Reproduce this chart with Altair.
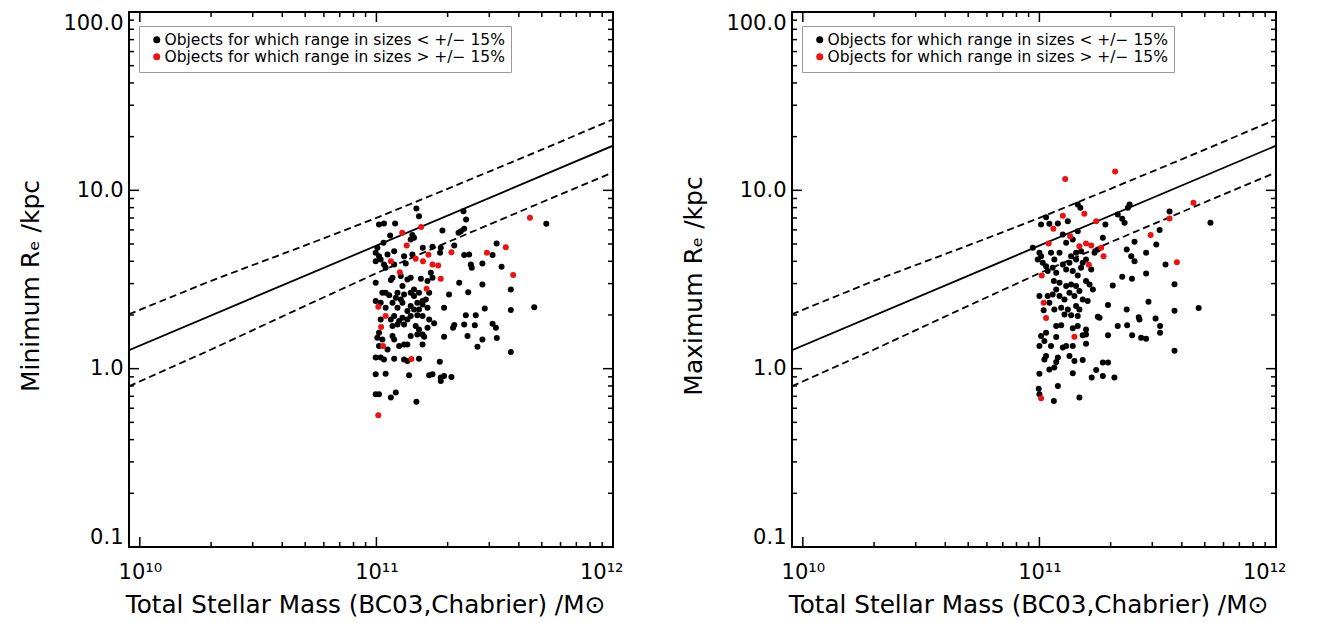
import altair as alt
import pandas as pd

FONT = "DejaVu Sans"
LAB_BLACK = "Objects for which range in sizes < +/\u2212 15%"
LAB_RED = "Objects for which range in sizes > +/\u2212 15%"

# ---------------- left panel (Minimum Re) : log10(M/Msun), log10(Re/kpc)
min_black_logm = [11.169, 11.180, 11.368, 11.379, 11.011, 11.032, 11.079, 11.371, 11.357, 11.347,
                  11.279, 11.058, 11.152, 11.159, 11.145, 11.030, 11.196, 11.237, 11.272, 11.329,
                  11.508, 11.718, 11.004, 10.997, 11.011, 11.018, 11.075, 11.047, 11.117, 11.152,
                  11.269, 11.371, 11.392, 11.491, 10.997, 11.032, 11.039, 11.075, 11.124, 11.399,
                  11.403, 11.448, 11.529, 10.997, 11.061, 11.068, 11.103, 11.131, 11.145, 11.188,
                  11.216, 11.237, 11.230, 11.350, 11.448, 11.568, 11.039, 11.054, 11.089, 11.117,
                  11.145, 11.159, 11.180, 11.195, 11.307, 11.388, 10.997, 11.018, 11.039, 11.068,
                  11.089, 11.110, 11.145, 11.173, 11.195, 11.159, 11.131, 11.286, 11.458, 11.568,
                  11.667, 11.075, 11.061, 11.110, 11.145, 11.173, 11.195, 11.223, 11.378, 11.420,
                  11.244, 11.068, 11.089, 11.117, 11.166, 11.180, 11.216, 11.329, 11.324, 11.371,
                  11.416, 11.491, 11.505, 11.011, 11.004, 11.025, 11.068, 11.145, 11.173, 11.195,
                  11.202, 11.286, 11.385, 11.448, 11.509, 11.011, 11.047, 11.096, 11.117, 11.131,
                  11.195, 11.427, 11.568, 10.997, 11.018, 11.032, 11.075, 11.117, 11.131, 11.180,
                  11.268, 10.997, 11.039, 11.138, 11.223, 11.237, 11.272, 11.286, 11.317, 11.272,
                  10.997, 11.011, 11.061, 11.082, 11.169, 11.103, 11.216, 11.180, 11.096, 11.131,
                  11.209, 11.082, 11.025, 11.159, 11.110, 11.223, 11.075, 11.018]
min_black_logr = [0.898, 0.855, 0.883, 0.836, 0.808, 0.814, 0.814, 0.784, 0.771, 0.762,
                  0.775, 0.747, 0.749, 0.734, 0.724, 0.706, 0.678, 0.683, 0.678, 0.691,
                  0.702, 0.812, 0.678, 0.650, 0.631, 0.612, 0.659, 0.640, 0.631, 0.640,
                  0.650, 0.637, 0.640, 0.637, 0.603, 0.584, 0.566, 0.584, 0.590, 0.584,
                  0.566, 0.590, 0.571, 0.482, 0.497, 0.510, 0.519, 0.500, 0.510, 0.504,
                  0.491, 0.510, 0.538, 0.482, 0.472, 0.444, 0.426, 0.411, 0.426, 0.416,
                  0.426, 0.407, 0.426, 0.379, 0.416, 0.429, 0.379, 0.370, 0.342, 0.370,
                  0.342, 0.370, 0.351, 0.370, 0.360, 0.332, 0.323, 0.342, 0.338, 0.329,
                  0.345, 0.295, 0.276, 0.286, 0.295, 0.299, 0.295, 0.276, 0.299, 0.299,
                  0.254, 0.239, 0.248, 0.248, 0.239, 0.220, 0.230, 0.245, 0.230, 0.248,
                  0.243, 0.252, 0.230, 0.202, 0.174, 0.164, 0.183, 0.183, 0.192, 0.192,
                  0.179, 0.179, 0.183, 0.164, 0.172, 0.127, 0.108, 0.127, 0.136, 0.136,
                  0.136, 0.123, 0.093, 0.063, 0.062, 0.052, 0.056, 0.052, 0.043, 0.056,
                  0.039, -0.032, -0.028, -0.037, -0.037, -0.032, -0.050, -0.041, -0.047, -0.069,
                  -0.144, -0.144, -0.162, -0.134, -0.185, 0.388, 0.342, 0.332, 0.267, 0.276,
                  0.388, 0.398, 0.426, 0.444, 0.463, 0.426, 0.164, 0.276]
min_red_logm = [11.189, 11.109, 11.128, 11.547, 11.649, 11.220, 11.317, 11.467, 11.061, 11.166,
                11.197, 11.237, 11.261, 11.099, 11.578, 11.272, 11.212, 11.008, 11.039, 11.020,
                11.028, 11.148, 11.008]
min_red_logr = [0.795, 0.762, 0.691, 0.681, 0.846, 0.639, 0.653, 0.650, 0.603, 0.616,
                0.603, 0.584, 0.579, 0.541, 0.525, 0.504, 0.448, 0.347, 0.295, 0.233,
                0.127, 0.054, -0.261]

# ---------------- right panel (Maximum Re)
max_black_logm = [11.173, 11.162, 11.028, 11.007, 11.042, 11.078, 11.120, 11.279, 11.331, 11.350,
                  11.360, 11.381, 11.374, 11.550, 11.723, 11.099, 11.162, 11.113, 11.141, 11.268,
                  11.155, 11.176, 11.402, 11.508, 11.494, 10.972, 11.000, 10.993, 11.014, 11.028,
                  11.049, 11.063, 11.007, 11.134, 11.247, 11.233, 11.369, 11.388, 11.402, 11.451,
                  11.533, 11.035, 11.056, 11.071, 11.141, 11.162, 11.197, 11.212, 11.226, 11.350,
                  11.391, 11.451, 11.571, 11.061, 11.085, 11.071, 11.056, 11.085, 11.113, 11.127,
                  11.106, 11.148, 11.169, 11.183, 11.204, 11.000, 11.035, 11.042, 11.155, 11.169,
                  11.310, 11.018, 11.063, 11.092, 11.106, 11.134, 11.162, 11.120, 11.247, 11.254,
                  11.290, 11.369, 11.420, 11.423, 11.461, 11.491, 11.571, 11.673, 11.071, 11.092,
                  11.141, 11.162, 11.197, 11.331, 11.371, 11.183, 11.197, 11.290, 11.392, 11.430,
                  11.451, 11.510, 11.510, 11.007, 11.028, 11.021, 11.000, 11.049, 11.071, 11.099,
                  11.113, 11.141, 11.197, 11.028, 11.021, 11.078, 11.071, 11.127, 11.148, 11.183,
                  11.571, 11.268, 11.290, 11.240, 11.042, 11.063, 11.000, 11.141, 11.221, 11.268,
                  11.317, 11.078, 10.997, 11.061, 11.169, 11.000, 11.127, 11.155, 11.183, 11.099,
                  11.176, 11.134, 11.155, 11.113, 11.197, 11.085, 11.219]
max_black_logr = [0.902, 0.920, 0.849, 0.808, 0.812, 0.814, 0.827, 0.808, 0.864, 0.840,
                  0.818, 0.920, 0.902, 0.881, 0.818, 0.752, 0.771, 0.706, 0.724, 0.734,
                  0.650, 0.659, 0.711, 0.777, 0.696, 0.678, 0.650, 0.612, 0.594, 0.575,
                  0.650, 0.612, 0.631, 0.631, 0.668, 0.650, 0.668, 0.631, 0.603, 0.650,
                  0.584, 0.547, 0.566, 0.538, 0.547, 0.523, 0.491, 0.472, 0.444, 0.515,
                  0.504, 0.534, 0.474, 0.491, 0.482, 0.444, 0.416, 0.407, 0.463, 0.426,
                  0.388, 0.407, 0.435, 0.388, 0.379, 0.407, 0.407, 0.370, 0.351, 0.332,
                  0.467, 0.327, 0.332, 0.342, 0.304, 0.299, 0.295, 0.332, 0.291, 0.286,
                  0.357, 0.332, 0.289, 0.276, 0.375, 0.282, 0.325, 0.340, 0.239, 0.243,
                  0.226, 0.239, 0.220, 0.239, 0.243, 0.187, 0.192, 0.187, 0.187, 0.174,
                  0.168, 0.239, 0.202, 0.183, 0.202, 0.155, 0.127, 0.127, 0.177, 0.118,
                  0.127, 0.127, 0.140, 0.071, 0.052, 0.062, 0.037, 0.071, 0.043, 0.049,
                  0.101, 0.034, 0.034, -0.007, -0.004, 0.006, -0.028, -0.026, -0.050, -0.041,
                  -0.050, -0.097, -0.112, -0.181, -0.162, -0.144, 0.594, 0.612, 0.594, 0.584,
                  0.566, 0.472, 0.463, 0.556, 0.612, 0.650, 0.556]
max_red_logm = [11.109, 11.320, 11.190, 11.099, 11.059, 11.240, 11.550, 11.651, 11.130, 11.039,
                11.169, 11.197, 11.219, 11.261, 11.271, 11.470, 11.209, 11.581, 11.010, 11.018,
                11.028, 11.148, 11.007]
max_red_logr = [1.064, 1.105, 0.868, 0.857, 0.784, 0.827, 0.842, 0.930, 0.743, 0.702,
                0.687, 0.702, 0.691, 0.678, 0.631, 0.749, 0.583, 0.597, 0.523, 0.370,
                0.284, 0.179, -0.166]

# ---------------- size-mass relation and its scatter
solid_mass = [9e9, 1e12]
solid_re = [1.27, 17.8]
dash_mass = [9e9, 2e10, 5e10, 1e11, 2e11, 5e11, 1e12]
upper_re = [2.02, 3.11, 4.91, 7.00, 10.2, 16.9, 25.0]
lower_re = [0.797, 1.28, 2.25, 3.43, 5.12, 8.57, 12.6]

# ---------------- tick values
x_major = [1e10, 1e11, 1e12]
x_minor = [k * 10.0 ** e for e in (10, 11) for k in range(2, 10)]
y_major = [0.1, 1.0, 10.0, 100.0]
y_minor = [k * 10.0 ** e for e in (-1, 0, 1) for k in range(2, 10)]

W, H = 484, 535
MAJ, MIN = 10, 5

xs = alt.Scale(type="log", domain=[9e9, 1e12], nice=False)
ys = alt.Scale(type="log", domain=[0.1, 100], nice=False)


def inward_ticks():
    """Inward-pointing tick marks on all four sides, placed through the scales."""
    layers = []
    for vals, size in ((x_major, MAJ), (x_minor, MIN)):
        d = pd.DataFrame({"v": vals})
        for y0, y1 in ((H, H - size), (0, size)):
            layers.append(alt.Chart(d).mark_rule(color="black", strokeWidth=1.5).encode(
                x=alt.X("v:Q", scale=xs, axis=None), y=alt.value(y0), y2=alt.value(y1)))
    for vals, size in ((y_major, MAJ), (y_minor, MIN)):
        d = pd.DataFrame({"v": vals})
        for x0, x1 in ((0, size), (W, W - size)):
            layers.append(alt.Chart(d).mark_rule(color="black", strokeWidth=1.5).encode(
                y=alt.Y("v:Q", scale=ys, axis=None), x=alt.value(x0), x2=alt.value(x1)))
    return layers


def panel(bm, br, rm, rr, ytitle):
    df = pd.DataFrame({
        "mass": [10 ** v for v in bm] + [10 ** v for v in rm],
        "re": [10 ** v for v in br] + [10 ** v for v in rr],
        "grp": [LAB_BLACK] * len(bm) + [LAB_RED] * len(rm),
    })
    x_lab = alt.Axis(values=x_major, orient="bottom", ticks=False, domain=False, grid=False,
                     labelExpr="datum.value > 5e11 ? '10\u00b9\u00b2' : datum.value > 5e10 ? '10\u00b9\u00b9' : '10\u00b9\u2070'",
                     labelFont=FONT, labelFontSize=21, labelColor="black", labelPadding=14,
                     labelFlush=True, labelFlushOffset=10,
                     title="Total Stellar Mass (BC03,Chabrier) /M\u2299",
                     titleFont=FONT, titleFontSize=24.7, titleFontWeight="normal", titleColor="black",
                     titleX=W / 2 - 6, titleY=58, titleAlign="center", titleBaseline="middle")
    y_lab = alt.Axis(values=y_major, orient="left", ticks=False, domain=False, grid=False,
                     format=".1f", labelFont=FONT, labelFontSize=21, labelColor="black",
                     labelPadding=6, labelFlush=True,
                     title=ytitle, titleFont=FONT, titleFontSize=25, titleFontWeight="normal",
                     titleColor="black", titleAngle=270, titleX=-99, titleY=H / 2 + 6,
                     titleAlign="center", titleBaseline="middle")
    pts = alt.Chart(df).mark_point(filled=True, size=36, opacity=1, shape="circle").encode(
        x=alt.X("mass:Q", scale=xs, axis=x_lab),
        y=alt.Y("re:Q", scale=ys, axis=y_lab),
        color=alt.Color("grp:N",
                        scale=alt.Scale(domain=[LAB_BLACK, LAB_RED], range=["#000000", "#f01010"]),
                        legend=alt.Legend(title=None, orient="none", legendX=10, legendY=14,
                                          fillColor="white", strokeColor="#9a9a9a",
                                          padding=6, symbolOffset=4, symbolType="circle",
                                          symbolSize=50, labelFont=FONT, labelFontSize=15.5,
                                          labelColor="black", labelLimit=600, labelOffset=0,
                                          rowPadding=-1.5, symbolStrokeWidth=0)),
    )
    sdf = pd.DataFrame({"mass": solid_mass, "re": solid_re})
    ddf = pd.DataFrame({"mass": dash_mass, "up": upper_re, "lo": lower_re})
    solid = alt.Chart(sdf).mark_line(color="black", strokeWidth=1.8, clip=True).encode(
        x=alt.X("mass:Q", scale=xs, axis=None), y=alt.Y("re:Q", scale=ys, axis=None))
    up = alt.Chart(ddf).mark_line(color="black", strokeWidth=1.8, strokeDash=[7, 4], clip=True).encode(
        x=alt.X("mass:Q", scale=xs, axis=None), y=alt.Y("up:Q", scale=ys, axis=None))
    lo = alt.Chart(ddf).mark_line(color="black", strokeWidth=1.8, strokeDash=[7, 4], clip=True).encode(
        x=alt.X("mass:Q", scale=xs, axis=None), y=alt.Y("lo:Q", scale=ys, axis=None))
    return alt.layer(*inward_ticks(), solid, up, lo, pts).resolve_axis(
        x="independent", y="independent").properties(width=W, height=H)


left = panel(min_black_logm, min_black_logr, min_red_logm, min_red_logr, "Minimum R\u2091 /kpc")
right = panel(max_black_logm, max_black_logr, max_red_logm, max_red_logr, "Maximum R\u2091 /kpc")

chart = alt.hconcat(left, right, spacing=56).resolve_scale(color="independent").configure_view(
    stroke="black", strokeWidth=2).properties(
    padding={"left": 9, "top": 2, "right": 5, "bottom": 0}, background="white")

chart.save("out.html", embed_options={"renderer": "svg", "actions": False})
